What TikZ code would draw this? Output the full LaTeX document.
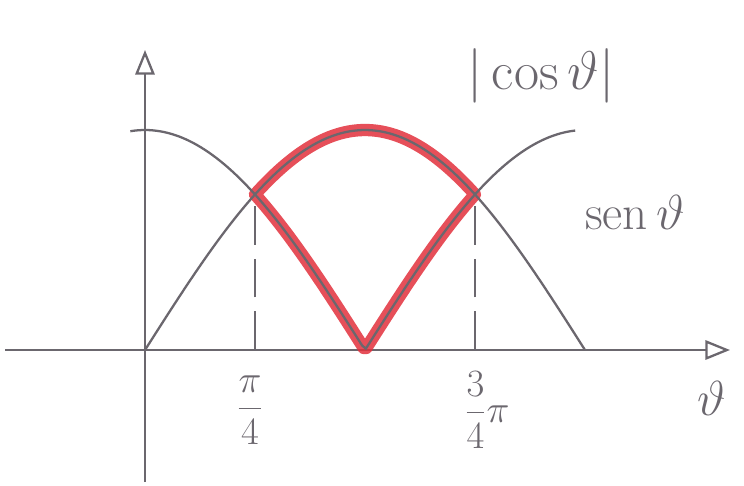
\RequirePackage{fix-cm}
\documentclass[tikz,border=0pt]{standalone}
\usepackage{tikz}
\usetikzlibrary{arrows.meta,positioning}
\usepackage{amsmath,amssymb}
\definecolor{pencil}{HTML}{6B676E}
\definecolor{marker}{HTML}{E2303C}
\tikzset{
  pen/.style={pencil,line width=1.3pt},
  lbl/.style={pencil,font=\fontsize{28}{32}\selectfont},
  frac/.style={pencil,font=\fontsize{22}{26}\selectfont},
}

\begin{document}
\begin{tikzpicture}[x=0.02cm,y=-0.02cm]
  \useasboundingbox (0,0) rectangle (744,485);
  % axes
  \coordinate (xs) at (5,350);
  \coordinate (xe) at (730,350);
  \coordinate (ys) at (145,482);
  \coordinate (ye) at (145,50);
  \draw[pen,-{Triangle[open,length=14pt,width=11pt]}] (xs) -- (xe);
  \draw[pen,-{Triangle[open,length=14pt,width=11pt]}] (ys) -- (ye);
  % region between sin and |cos|
  \draw[marker,line width=7pt,opacity=0.85,line join=round]
    plot[domain=45:135,samples=60] ({145+2.4444*\x},{350-220*sin(\x)})
    -- plot[domain=135:45,samples=90] ({145+2.4444*\x},{350-220*abs(cos(\x))}) -- cycle;
  % curves
  \draw[pen] plot[domain=0:180,samples=100] ({145+2.4444*\x},{350-220*sin(\x)});
  \draw[pen] plot[domain=-6:176,samples=120] ({145+2.4444*\x},{350-220*abs(cos(\x))});
  % crossings
  \coordinate (p1) at (255,{350-220*sin(45)});
  \coordinate (p3) at (475,{350-220*sin(45)});
  \coordinate (b1) at (255,350);
  \coordinate (b3) at (475,350);
  \draw[pen,dash pattern=on 22pt off 8pt] (b1) -- (p1);
  \draw[pen,dash pattern=on 22pt off 8pt] (b3) -- (p3);
  % labels
  \node[frac] (q1) at (250,410) {$\dfrac{\pi}{4}$};
  \node[frac] (q3) at (487,410) {$\dfrac{3}{4}\pi$};
  \node[lbl] (th) at (712,398) {$\vartheta$};
  \node[lbl,font=\fontsize{31}{36}\selectfont] (lc) at (541,76) {$|\cos\vartheta|$};
  \node[lbl] (ls) at (635,212) {$\mathrm{sen}\,\vartheta$};
\end{tikzpicture}
\end{document}
